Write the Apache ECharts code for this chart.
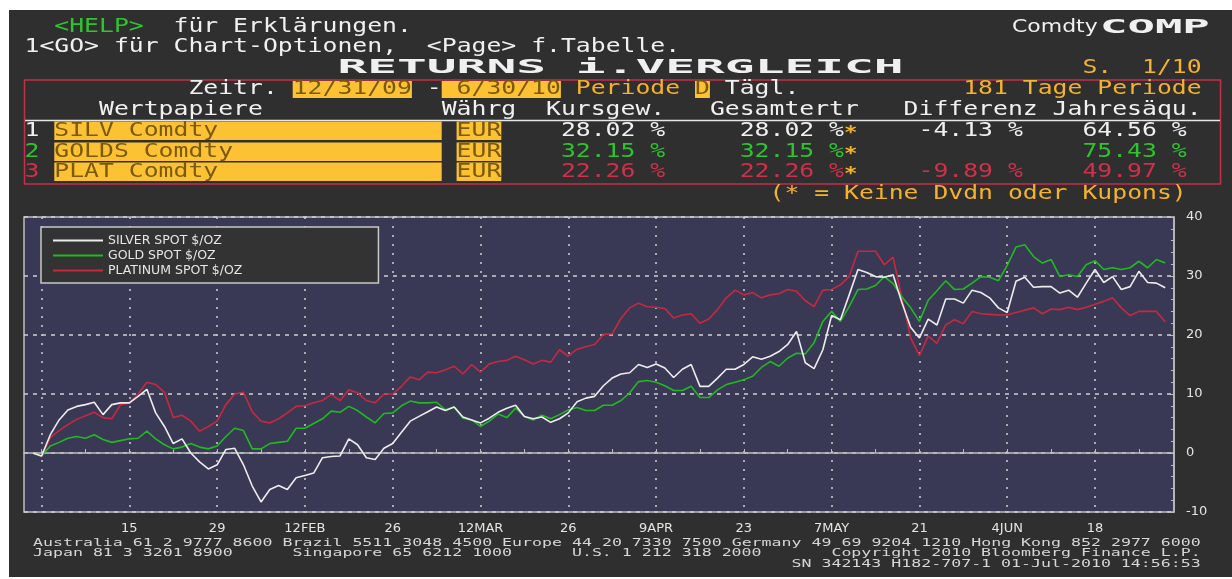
<!DOCTYPE html>
<html>
<head>
<meta charset="utf-8">
<script src="https://cdn.jsdelivr.net/npm/echarts/dist/echarts.min.js"></script>
<style>
  html, body { margin: 0; padding: 0; background: #fff; }
  #bg { position: absolute; left: 9px; top: 10px; width: 1223px; height: 567px; background: #2f2f2f; }
  #chart { position: absolute; left: 0; top: 0; width: 1232px; height: 579px; }
</style>
</head>
<body>
<div id="bg"></div>
<div id="chart"></div>
<script>
// cumulative return in %, one value per business day 31-Dec-09 .. 30-Jun-10
const silver = [
  0, -0.5, 3.1, 5.6, 7.3, 7.9, 8.2, 8.6, 6.5, 8.2,
  8.5, 8.5, 9.6, 10.8, 6.8, 4.5, 1.6, 2.4, 0.0, -1.5,
  -2.7, -2.0, 0.6, 0.8, -2.0, -5.6, -8.3, -6.2, -5.5, -6.2,
  -4.2, -3.8, -3.4, -0.8, -0.6, -0.5, 2.4, 1.4, -0.8, -1.1,
  0.8, 1.6, 3.5, 5.4, 6.2, 7.0, 7.8, 7.2, 7.8, 6.1,
  5.6, 5.1, 5.9, 6.9, 7.6, 8.1, 6.2, 5.8, 6.1, 5.2,
  5.8, 6.8, 8.7, 9.3, 9.6, 11.4, 12.7, 13.4, 13.6, 15.0,
  14.5, 15.1, 14.4, 12.8, 14.2, 15.0, 11.3, 11.3, 12.7, 14.2,
  14.2, 15.0, 16.3, 15.9, 16.4, 17.2, 18.4, 20.6, 15.3, 14.3,
  17.5, 23.3, 22.6, 26.8, 31.1, 30.6, 29.9, 29.8, 30.2, 25.5,
  21.3, 19.5, 22.7, 21.7, 26.1, 26.1, 25.4, 27.6, 27.2, 26.3,
  24.6, 23.8, 29.1, 29.8, 28.1, 28.2, 28.2, 27.1, 27.6, 26.4,
  28.8, 31.1, 28.9, 29.9, 27.7, 28.2, 30.8, 28.9, 28.8, 28.0
];
const gold = [
  0, -0.5, 1.2, 1.8, 2.5, 2.8, 2.5, 3.1, 2.3, 1.8,
  2.1, 2.4, 2.5, 3.7, 2.4, 1.4, 0.7, 1.0, 1.6, 1.0,
  0.7, 1.2, 2.8, 4.2, 3.8, 0.7, 0.7, 1.6, 1.8, 2.0,
  4.2, 4.2, 5.0, 5.8, 7.1, 6.9, 7.9, 7.2, 6.1, 5.1,
  6.7, 6.8, 8.0, 8.8, 8.5, 8.5, 8.6, 7.3, 7.8, 5.9,
  5.6, 4.5, 5.4, 6.6, 6.0, 7.6, 6.2, 5.6, 6.4, 5.8,
  6.5, 7.3, 7.7, 7.2, 7.2, 8.1, 8.1, 8.9, 10.2, 12.1,
  12.3, 12.0, 11.4, 10.6, 10.6, 11.3, 9.4, 9.4, 10.7, 11.6,
  12.0, 12.4, 13.0, 14.5, 15.5, 14.7, 16.1, 16.9, 16.8, 18.7,
  22.3, 24.0, 22.3, 24.8, 27.7, 27.8, 28.4, 29.9, 28.7, 26.5,
  24.6, 22.3, 25.9, 27.5, 29.2, 27.7, 27.8, 28.8, 29.9, 29.8,
  29.2, 31.8, 34.9, 35.3, 33.3, 32.2, 32.8, 29.9, 30.2, 29.9,
  31.9, 32.6, 31.1, 31.4, 31.1, 31.4, 32.5, 31.4, 32.8, 32.2
];
const platinum = [
  0, -0.6, 2.6, 3.8, 4.8, 5.7, 6.3, 6.9, 6.0, 5.8,
  8.2, 8.5, 10.0, 12.0, 11.6, 10.3, 6.0, 6.4, 5.4, 3.7,
  4.5, 5.4, 8.2, 10.0, 10.3, 7.0, 5.4, 5.1, 5.8, 6.8,
  7.9, 8.0, 8.5, 8.9, 9.9, 8.9, 10.7, 10.2, 8.9, 8.5,
  10.0, 10.0, 11.3, 12.9, 12.4, 13.7, 13.6, 14.1, 14.7, 13.4,
  15.0, 13.7, 15.1, 15.5, 15.7, 16.4, 15.8, 15.1, 15.7, 15.4,
  17.5, 16.4, 17.6, 18.0, 18.4, 20.1, 20.2, 22.8, 24.6, 25.4,
  24.8, 24.7, 24.5, 22.9, 23.4, 23.6, 22.0, 22.7, 24.3, 26.3,
  27.6, 26.8, 27.2, 26.3, 26.8, 27.0, 27.7, 27.4, 25.8, 24.8,
  27.6, 27.7, 28.5, 29.9, 34.2, 34.2, 34.2, 31.9, 33.2, 26.3,
  19.5, 16.5, 19.8, 18.6, 21.7, 22.6, 21.9, 24.0, 23.6, 23.5,
  23.4, 23.4, 23.8, 24.2, 24.6, 23.6, 24.4, 24.3, 24.7, 24.3,
  24.7, 25.2, 25.7, 26.3, 24.6, 23.3, 24.0, 24.0, 24.0, 22.2
];
const seriesNames = ['SILVER SPOT $/OZ', 'GOLD SPOT $/OZ', 'PLATINUM SPOT $/OZ'];

// x tick labels (every second Friday); 1 Jan only gets a grid line
const tickLabels = {
  '2010-01-15': '15', '2010-01-29': '29', '2010-02-12': '12FEB', '2010-02-26': '26',
  '2010-03-12': '12MAR', '2010-03-26': '26', '2010-04-09': '9APR', '2010-04-23': '23',
  '2010-05-07': '7MAY', '2010-05-21': '21', '2010-06-04': '4JUN', '2010-06-18': '18'
};
const gridDays = ['2010-01-01'].concat(Object.keys(tickLabels));
const yTicks = [-10, 0, 10, 20, 30, 40];

// table rows
const rowNames = ['SILV Comdty', 'GOLDS Comdty', 'PLAT Comdty'];
const rowCcy = ['EUR', 'EUR', 'EUR'];
const priceRet = ['28.02 %', '32.15 %', '22.26 %'];
const totalRet = ['28.02 %', '32.15 %', '22.26 %'];
const diffRet = ['-4.13 %', '', '-9.89 %'];
const annualRet = ['64.56 %', '75.43 %', '49.97 %'];

// business days on the axis, one empty slot each side
const days = [];
for (let t = Date.UTC(2009, 11, 31); t <= Date.UTC(2010, 5, 30); t += 86400000) {
  const wd = new Date(t).getUTCDay();
  if (wd === 0 || wd === 6) continue;
  days.push(new Date(t).toISOString().slice(0, 10));
}
const cats = ['2009-12-30'].concat(days, ['2010-07-01']);
const isFriday = d => new Date(d + 'T00:00:00Z').getUTCDay() === 5;

const WHITE = '#f0f0f0';
const GREEN = '#2fc42f';
const RED = '#d0304a';
const ORANGE = '#f6b22a';
const BOX = '#fcc233';
const ONBOX = '#7c5a0c';
const lineColors = ['#ececec', '#22b822', '#c8283e'];
const rowColors = [WHITE, GREEN, RED];

// terminal text grid
const CW = 14.9, X0 = 24.5;
const ROWS = [27, 47, 68, 89, 110, 131, 152, 172, 194];
const MONO = '"DejaVu Sans Mono", monospace';
const SX = CW / (20 * 0.602);

const els = [];
function txt(x, y, s, fill, font, sx) {
  els.push({
    type: 'text', x: x, y: y, scaleX: sx, silent: true,
    style: { text: s, fill: fill, font: font, align: 'left', verticalAlign: 'middle',
             textAlign: 'left', textVerticalAlign: 'middle' }
  });
}
function cell(col, row, s, fill) {
  txt(X0 + col * CW, ROWS[row], s, fill, '20px ' + MONO, SX);
}
function box(c0, c1, y0, y1) {
  els.push({ type: 'rect', silent: true,
    shape: { x: X0 + c0 * CW, y: y0, width: (c1 - c0) * CW, height: y1 - y0 },
    style: { fill: BOX } });
}

// header lines
cell(2, 0, '<HELP>', GREEN);
cell(10, 0, 'für Erklärungen.', WHITE);
txt(1012, ROWS[0], 'Comdty', WHITE, '18px "DejaVu Sans"', 1.22);
txt(1100, ROWS[0] + 1, 'COMP', WHITE, 'bold 20px ' + MONO, 2.28);
cell(0, 1, '1<GO> für Chart-Optionen,  <Page> f.Tabelle.', WHITE);
txt(X0 + 21 * CW, ROWS[2], 'RETURNS i.VERGLEICH', WHITE, 'bold 20px ' + MONO, 2 * SX);
cell(71, 2, 'S.  1/10', ORANGE);

// frame
els.push({ type: 'rect', silent: true, shape: { x: 24.5, y: 80, width: 1196, height: 104 },
  style: { fill: 'none', stroke: '#c4304a', lineWidth: 1.5 } });
els.push({ type: 'line', silent: true, shape: { x1: 25, y1: 120.5, x2: 1220, y2: 120.5 },
  style: { stroke: '#e6e6e6', lineWidth: 1.5 } });

box(18, 26, 81, 98);
box(28, 36, 81, 98);
box(45, 46, 81, 98);
cell(11, 3, 'Zeitr.', WHITE);
cell(18, 3, '12/31/09', ONBOX);
cell(27, 3, '-', WHITE);
cell(29, 3, '6/30/10', ONBOX);
cell(37, 3, 'Periode', ORANGE);
cell(45, 3, 'D', ONBOX);
cell(47, 3, 'Tägl.', WHITE);
cell(63, 3, '181 Tage Periode', ORANGE);

cell(5, 4, 'Wertpapiere', WHITE);
cell(28, 4, 'Währg', WHITE);
cell(35, 4, 'Kursgew.', WHITE);
cell(46, 4, 'Gesamtertr', WHITE);
cell(59, 4, 'Differenz', WHITE);
cell(69, 4, 'Jahresäqu.', WHITE);

rowNames.forEach((name, i) => {
  const r = 5 + i, y = ROWS[r];
  box(2, 28, y - 9.5, y + 9);
  box(29, 32, y - 9.5, y + 9);
  cell(0, r, String(i + 1), rowColors[i]);
  cell(2, r, name, ONBOX);
  cell(29, r, rowCcy[i], ONBOX);
  cell(36, r, priceRet[i], rowColors[i]);
  cell(48, r, totalRet[i], rowColors[i]);
  txt(X0 + 55 * CW, y + 2, '*', ORANGE, 'bold 18px ' + MONO, SX);
  if (diffRet[i]) cell(60, r, diffRet[i], rowColors[i]);
  cell(71, r, annualRet[i], rowColors[i]);
});
cell(50, 8, '(* = Keine Dvdn oder Kupons)', ORANGE);

// footer
const FX0 = 33, FCW = 9.98, FSX = FCW / (11 * 0.602);
const FONT_F = '11px ' + MONO;
const foot = [
  [0, 543, 'Australia 61 2 9777 8600 Brazil 5511 3048 4500 Europe 44 20 7330 7500 Germany 49 69 9204 1210 Hong Kong 852 2977 6000'],
  [0, 553, 'Japan 81 3 3201 8900'],
  [26, 553, 'Singapore 65 6212 1000'],
  [54, 553, 'U.S. 1 212 318 2000'],
  [80, 553, 'Copyright 2010 Bloomberg Finance L.P.'],
  [76, 564, 'SN 342143 H182-707-1 01-Jul-2010 14:56:53']
];
foot.forEach(f => txt(FX0 + f[0] * FCW, f[1], f[2], '#d6d6d6', FONT_F, FSX));

const pad = a => [null].concat(a, [null]);

const chart = echarts.init(document.getElementById('chart'));
chart.setOption({
  animation: false,
  backgroundColor: 'transparent',
  textStyle: { fontFamily: 'DejaVu Sans' },
  grid: {
    left: 24, top: 217, right: 58, bottom: 67,
    show: true, backgroundColor: '#393956', borderColor: '#bdbdbd', borderWidth: 1.5
  },
  legend: {
    left: 41, top: 227, orient: 'vertical',
    data: seriesNames, icon: 'rect', itemWidth: 50, itemHeight: 2, itemGap: 2,
    backgroundColor: '#333333', borderColor: '#c8c8c8', borderWidth: 1.5, borderRadius: 0,
    padding: [7, 136, 6, 12], selectedMode: false,
    textStyle: { color: '#e6e6e6', fontFamily: 'DejaVu Sans', fontSize: 12.5, lineHeight: 13 }
  },
  xAxis: {
    type: 'category', data: cats, boundaryGap: false,
    axisLine: { show: true, lineStyle: { color: '#bdbdbd', width: 1.5 } },
    axisTick: { show: true, inside: true, length: 4, interval: (i, v) => isFriday(v),
                lineStyle: { color: '#bdbdbd' } },
    axisLabel: { interval: (i, v) => v in tickLabels, formatter: v => tickLabels[v] || '',
                 color: '#e4e4e4', fontFamily: 'DejaVu Sans', fontSize: 13, margin: 10 },
    splitLine: { show: true, interval: (i, v) => gridDays.indexOf(v) >= 0,
                 lineStyle: { color: '#cfcfcf', type: [2, 7], width: 1.5 } }
  },
  yAxis: {
    type: 'value', position: 'right', min: yTicks[0], max: yTicks[yTicks.length - 1], interval: 10,
    axisLine: { show: true, lineStyle: { color: '#bdbdbd', width: 1.5 } },
    axisTick: { show: true, inside: true, length: 5, lineStyle: { color: '#bdbdbd' } },
    minorTick: { show: true, splitNumber: 5, length: 3, lineStyle: { color: '#bdbdbd' } },
    axisLabel: { color: '#e4e4e4', fontFamily: 'DejaVu Sans', fontSize: 13, margin: 12 },
    splitLine: { show: true, lineStyle: { color: '#cfcfcf', type: [4, 5], width: 1.5 } }
  },
  series: [
    { name: seriesNames[2], data: pad(platinum), color: lineColors[2] },
    { name: seriesNames[1], data: pad(gold), color: lineColors[1] },
    { name: seriesNames[0], data: pad(silver), color: lineColors[0] }
  ].map(s => Object.assign({
    type: 'line', showSymbol: false, symbol: 'none',
    lineStyle: { width: 1.6 }
  }, s)),
  graphic: { elements: els }
});
</script>
</body>
</html>
